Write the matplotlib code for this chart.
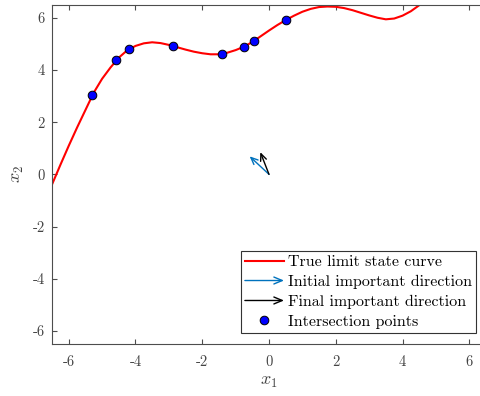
import matplotlib
matplotlib.use("Agg")
import matplotlib.pyplot as plt
from matplotlib.lines import Line2D
from matplotlib.legend_handler import HandlerBase
from matplotlib.patches import FancyArrowPatch

plt.rcParams['font.family'] = ['cmr10', 'DejaVu Serif']
plt.rcParams['mathtext.fontset'] = 'cm'
plt.rcParams['axes.unicode_minus'] = False
plt.rcParams['axes.formatter.use_mathtext'] = True

# True limit state curve
curve_x = [-6.5, -6.25, -6.0, -5.75, -5.5, -5.25, -5.0, -4.75, -4.5, -4.25, -4.0,
           -3.75, -3.5, -3.25, -3.0, -2.75, -2.5, -2.25, -2.0, -1.75, -1.5, -1.25,
           -1.0, -0.75, -0.5, -0.25, 0.0, 0.25, 0.5, 0.75, 1.0, 1.25, 1.5, 1.75,
           2.0, 2.25, 2.5, 2.75, 3.0, 3.25, 3.5, 3.75, 4.0, 4.25, 4.5, 4.75]
curve_y = [-0.39, 0.36, 1.09, 1.79, 2.46, 3.13, 3.66, 4.09, 4.47, 4.75, 4.92,
           5.02, 5.06, 5.03, 4.96, 4.87, 4.78, 4.70, 4.64, 4.60, 4.60, 4.66,
           4.76, 4.89, 5.07, 5.29, 5.51, 5.72, 5.91, 6.08, 6.23, 6.34, 6.41, 6.43,
           6.42, 6.37, 6.29, 6.19, 6.09, 6.00, 5.94, 5.97, 6.08, 6.25, 6.48, 6.75]

# Intersection points
pts_x = [-5.30, -4.58, -4.18, -2.87, -1.42, -0.76, -0.45, 0.50]
pts_y = [3.05, 4.39, 4.80, 4.92, 4.61, 4.89, 5.11, 5.90]

# Important directions (start at origin)
origin = [0.0, 0.0]
init_dir = [-0.58, 0.69]
final_dir = [-0.26, 0.85]

xticks = [-6, -4, -2, 0, 2, 4, 6]
yticks = [-6, -4, -2, 0, 2, 4, 6]

blue_arrow = '#0072BD'

fig = plt.figure(figsize=(4.8, 3.96), dpi=100)
ax = fig.add_axes([52/480, 52/396, 434/480, 339.3/396])

ax.plot(curve_x, curve_y, color='red', lw=1.5, zorder=2)
ax.annotate('', xy=(init_dir[0], init_dir[1]), xytext=(origin[0], origin[1]),
            arrowprops=dict(arrowstyle='->,head_length=0.5,head_width=0.22', color=blue_arrow, lw=1.0,
                            shrinkA=0, shrinkB=0, mutation_scale=10))
ax.annotate('', xy=(final_dir[0], final_dir[1]), xytext=(origin[0], origin[1]),
            arrowprops=dict(arrowstyle='->,head_length=0.5,head_width=0.22', color='black', lw=1.0,
                            shrinkA=0, shrinkB=0, mutation_scale=10))
ax.plot(pts_x, pts_y, 'o', color='blue', markeredgecolor='black', markeredgewidth=0.7,
        markersize=6.2, zorder=3, linestyle='none')

ax.set_xlim(-6.5, 6.5)
ax.set_ylim(-6.5, 6.5)
ax.set_xticks(xticks)
ax.set_yticks(yticks)
ax.set_xticklabels([str(t) for t in xticks])
ax.set_yticklabels([str(t) for t in yticks])

axcol = '#4d4d4d'
for s in ax.spines.values():
    s.set_color(axcol)
    s.set_linewidth(0.8)
ax.tick_params(direction='in', length=3.5, width=0.8, color=axcol, labelcolor='#444444',
               labelsize=10.5, top=True, right=True)
ax.tick_params(axis='x', pad=8)
ax.tick_params(axis='y', pad=5)

ax.set_xlabel('$x_1$', fontsize=13, color='#444444', labelpad=4)
ax.set_ylabel('$x_2$', fontsize=13, color='#444444', labelpad=5)


class ArrowHandler(HandlerBase):
    def create_artists(self, legend, orig_handle, xdescent, ydescent, width, height,
                       fontsize, trans):
        y = height / 2 - ydescent
        p = FancyArrowPatch((-xdescent, y), (-xdescent + width, y),
                            arrowstyle='->,head_length=0.6,head_width=0.25',
                            color=orig_handle.get_color(), lw=1.0,
                            mutation_scale=10, shrinkA=0, shrinkB=0, transform=trans)
        return [p]


h_curve = Line2D([], [], color='red', lw=1.5)
h_init = Line2D([], [], color=blue_arrow)
h_final = Line2D([], [], color='black')
h_pts = Line2D([], [], marker='o', color='blue', markeredgecolor='black',
               markeredgewidth=0.7, markersize=6.2, linestyle='none')

leg = ax.legend([h_curve, h_init, h_final, h_pts],
                ['True limit state curve', 'Initial important direction',
                 'Final important direction', 'Intersection points'],
                handler_map={h_init: ArrowHandler(), h_final: ArrowHandler()},
                loc='lower right', bbox_to_anchor=((476 - 52) / 434, (344 - 333) / 339.3),
                borderaxespad=0, fancybox=False, framealpha=1, edgecolor='#333333',
                fontsize=11.5, handlelength=2.45, handletextpad=0.25, labelspacing=0.36,
                borderpad=0.25)
leg.get_frame().set_linewidth(0.8)

fig.savefig('out.png', dpi=100)
